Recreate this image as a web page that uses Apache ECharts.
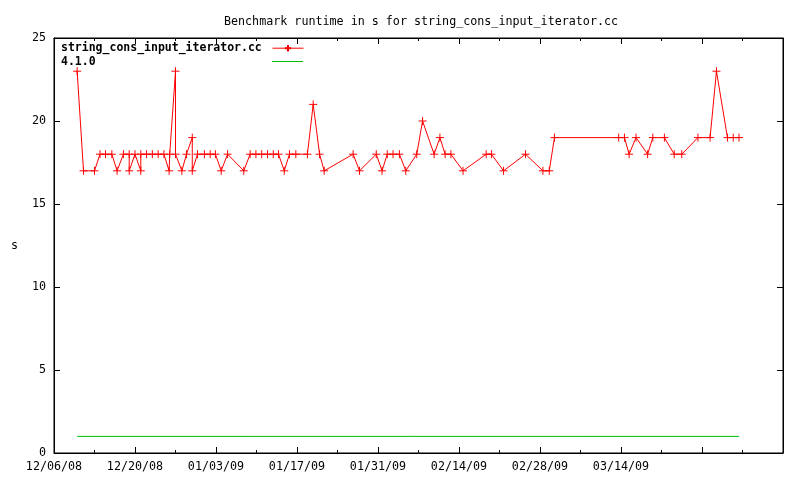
<!DOCTYPE html>
<html>
<head>
<meta charset="utf-8">
<script src="https://cdn.jsdelivr.net/npm/echarts@6/dist/echarts.min.js"></script>
<style>html,body{margin:0;padding:0;background:#fff}#c{width:800px;height:480px}</style>
</head>
<body>
<div id="c"></div>
<script>
// x positions: days elapsed since 12/06/08 (fractional = time of day of the run)
var runDay = [4.0, 5.1, 7.0, 7.95, 8.9, 10.0, 10.9, 12.0, 13.0, 13.0, 14.0, 15.0, 15.0, 16.0, 17.0, 18.0, 19.0, 19.9, 20.0, 21.0, 21.0, 22.1, 22.9, 23.9, 23.9, 24.8, 26.0, 27.0, 27.9, 28.9, 30.0, 32.8, 33.9, 34.9, 35.9, 36.9, 37.9, 38.8, 39.8, 40.7, 41.8, 43.8, 44.8, 45.9, 46.7, 51.7, 52.8, 55.7, 56.7, 57.6, 58.6, 59.7, 60.8, 62.7, 63.7, 65.7, 66.7, 67.6, 68.6, 70.7, 74.7, 75.6, 77.7, 81.5, 84.5, 85.6, 86.5, 97.6, 98.6, 99.4, 100.6, 102.6, 103.5, 105.5, 107.2, 108.5, 111.3, 113.4, 114.5, 116.4, 117.4, 118.4];
var runtime = [23, 17, 17, 18, 18, 18, 17, 18, 18, 17, 18, 17, 18, 18, 18, 18, 18, 17, 18, 23, 18, 17, 18, 19, 17, 18, 18, 18, 18, 17, 18, 17, 18, 18, 18, 18, 18, 18, 17, 18, 18, 18, 21, 18, 17, 18, 17, 18, 17, 18, 18, 18, 17, 18, 20, 18, 19, 18, 18, 17, 18, 18, 17, 18, 17, 17, 19, 19, 19, 18, 19, 18, 19, 19, 18, 18, 19, 19, 23, 19, 19, 19];
var baselineDay = [4.0, 118.4];
var baselineValue = [1, 1];
var xTickLabels = ['12/06/08', '12/20/08', '01/03/09', '01/17/09', '01/31/09', '02/14/09', '02/28/09', '03/14/09', '', ''];
var seriesNames = ['string_cons_input_iterator.cc', '4.1.0'];
var titleText = 'Benchmark runtime in s for string_cons_input_iterator.cc';

function pairs(xs, ys) { return xs.map(function (x, i) { return [x, ys[i]]; }); }

var FONT = 'DejaVu Sans Mono';
var chart = echarts.init(document.getElementById('c'), null, { renderer: 'canvas' });
var tickCommon = {
  type: 'value', min: 0, max: 126, interval: 14,
  axisLine: { show: true, onZero: false, lineStyle: { color: '#000', width: 1 } },
  axisTick: { show: true, inside: true, length: 6, lineStyle: { color: '#000', width: 1 } },
  minorTick: { show: true, splitNumber: 2, length: 3, lineStyle: { color: '#000', width: 1 } },
  splitLine: { show: false }
};
var yCommon = {
  type: 'value', min: 0, max: 25, interval: 5,
  axisLine: { show: true, onZero: false, lineStyle: { color: '#000', width: 1 } },
  axisTick: { show: true, inside: true, length: 6, lineStyle: { color: '#000', width: 1 } },
  splitLine: { show: false }
};
var legendLabelStyle = { fontFamily: FONT, fontSize: 11.5, fontWeight: 'bold', fill: '#000' };
chart.setOption({
  animation: false,
  backgroundColor: '#fff',
  title: {
    text: titleText, left: 416, top: 11, textAlign: 'center',
    textStyle: { fontFamily: FONT, fontSize: 11.7, fontWeight: 'normal', color: '#000' }
  },
  legend: [
    { data: [seriesNames[0]], left: 267, top: 39, align: 'left', itemWidth: 31, itemHeight: 8,
      formatter: function () { return ''; }, lineStyle: { width: 1 },
      textStyle: { fontSize: 6 }, selectedMode: false },
    { data: [{ name: seriesNames[1], icon: 'rect' }], left: 267, top: 56, align: 'left', itemWidth: 31, itemHeight: 1,
      formatter: function () { return ''; }, textStyle: { fontSize: 6 }, selectedMode: false }
  ],
  graphic: [
    { type: 'text', left: 61, top: 42, silent: true, style: Object.assign({ text: seriesNames[0] }, legendLabelStyle) },
    { type: 'text', left: 61, top: 56, silent: true, style: Object.assign({ text: seriesNames[1] }, legendLabelStyle) }
  ],
  grid: { left: 54, right: 17, top: 38, bottom: 27, show: true, borderColor: '#000', borderWidth: 1, backgroundColor: 'transparent' },
  xAxis: [
    Object.assign({}, tickCommon, {
      position: 'bottom',
      axisLabel: { margin: 8, fontFamily: FONT, fontSize: 11.7, color: '#000',
        formatter: function (v) { var i = Math.round(v / 14); return xTickLabels[i] || ''; } }
    }),
    Object.assign({}, tickCommon, { position: 'top', axisLabel: { show: false } })
  ],
  yAxis: [
    Object.assign({}, yCommon, {
      position: 'left', name: 's', nameLocation: 'middle', nameRotate: 0, nameGap: 36,
      nameTextStyle: { fontFamily: FONT, fontSize: 11.7, color: '#000' },
      axisLabel: { margin: 8, fontFamily: FONT, fontSize: 11.7, color: '#000' }
    }),
    Object.assign({}, yCommon, { position: 'right', axisLabel: { show: false } })
  ],
  series: [
    {
      name: seriesNames[0], type: 'line', xAxisIndex: 0, yAxisIndex: 0,
      data: pairs(runDay, runtime),
      symbol: 'path://M0,4H8M4,0V8', symbolSize: 8, showAllSymbol: true,
      lineStyle: { color: '#ff0000', width: 1 },
      itemStyle: { color: '#ff0000', borderColor: '#ff0000', borderWidth: 1 },
      emphasis: { disabled: true }
    },
    {
      name: seriesNames[1], type: 'line', xAxisIndex: 0, yAxisIndex: 0,
      data: pairs(baselineDay, baselineValue),
      symbol: 'none',
      lineStyle: { color: '#00c000', width: 1 },
      itemStyle: { color: '#00c000' },
      emphasis: { disabled: true }
    }
  ]
});
</script>
</body>
</html>
